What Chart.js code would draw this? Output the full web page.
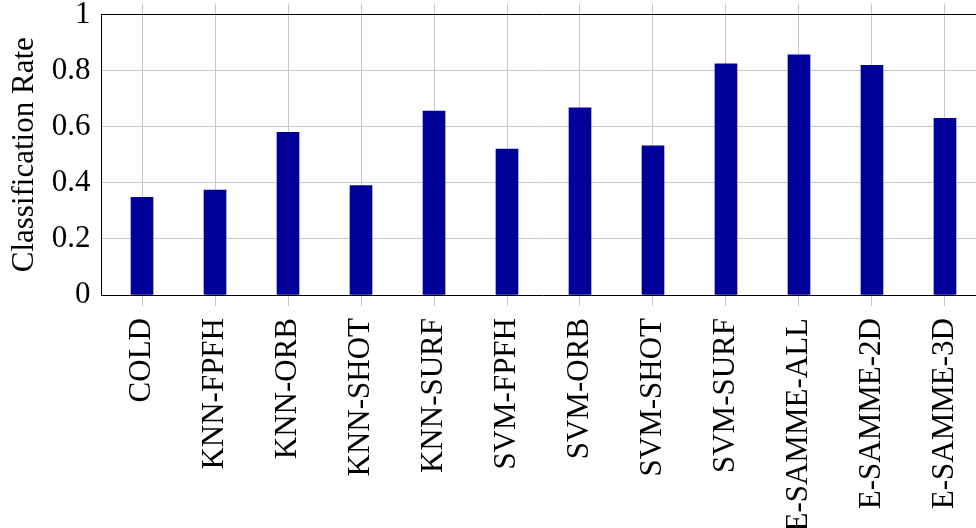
<!DOCTYPE html>
<html>
<head>
<meta charset="utf-8">
<script src="https://cdn.jsdelivr.net/npm/chart.js@4/dist/chart.umd.min.js"></script>
<style>
  html, body { margin: 0; padding: 0; background: #fff; overflow: hidden; }
  #wrap { width: 1000px; height: 528px; }
</style>
</head>
<body>
<div id="wrap"><canvas id="rateChart"></canvas></div>
<script>
const METHODS = ["COLD", "KNN-FPFH", "KNN-ORB", "KNN-SHOT", "KNN-SURF", "SVM-FPFH",
  "SVM-ORB", "SVM-SHOT", "SVM-SURF", "E-SAMME-ALL", "E-SAMME-2D", "E-SAMME-3D"];
const RATES = [0.348, 0.374, 0.580, 0.390, 0.656, 0.520, 0.667, 0.532, 0.824, 0.856, 0.819, 0.630];
const Y_TICKS = [0, 0.2, 0.4, 0.6, 0.8, 1];

const SERIF = "'Liberation Serif', 'Times New Roman', serif";
const GRID = '#c8c8c8';

// pgfplots-like x range: a bit wider than half a step on each side
const X_MIN = -0.555, X_MAX = METHODS.length - 1 + 0.555;
const catTicks = scale => { scale.ticks = METHODS.map((_, i) => ({ value: i })); };
const noPad = s => { s.paddingTop = 0; s.paddingBottom = 0; s.paddingLeft = 0; s.paddingRight = 0; };

new Chart(document.getElementById('rateChart').getContext('2d'), {
  type: 'bar',
  data: {
    datasets: [{
      data: METHODS.map((m, i) => ({ x: i, y: RATES[i] })),
      backgroundColor: '#000099',
      borderWidth: 0,
      barThickness: 22
    }]
  },
  options: {
    responsive: true,
    maintainAspectRatio: false,
    animation: false,
    layout: { padding: { left: 0, top: 0, right: 14.5, bottom: 0 } },
    plugins: { legend: { display: false }, tooltip: { enabled: false } },
    scales: {
      x: {
        type: 'linear',
        position: 'bottom',
        offset: false,
        min: X_MIN, max: X_MAX,
        afterBuildTicks: catTicks,
        afterFit: s => { s.height = 233; noPad(s); },
        grid: { color: GRID, lineWidth: 1, tickLength: 11, offset: false },
        border: { color: '#000', width: 1 },
        ticks: {
          autoSkip: false, minRotation: 90, maxRotation: 90, padding: 12,
          color: '#000', font: { family: SERIF, size: 31 },
          callback: v => METHODS[v]
        }
      },
      x2: {
        type: 'linear',
        position: 'top',
        offset: false,
        min: X_MIN, max: X_MAX,
        afterBuildTicks: catTicks,
        afterFit: s => { s.height = 14.5; noPad(s); },
        grid: { color: GRID, lineWidth: 1, tickLength: 11, drawOnChartArea: false, offset: false },
        border: { color: '#000', width: 1 },
        ticks: { display: false }
      },
      y: {
        min: 0, max: 1,
        afterBuildTicks: s => { s.ticks = Y_TICKS.map(v => ({ value: v })); },
        afterFit: s => { s.width = 101.5; noPad(s); },
        grid: { color: GRID, lineWidth: 1, drawTicks: false },
        border: { color: '#000', width: 1 },
        ticks: {
          padding: 11, color: '#000', font: { family: SERIF, size: 31 },
          callback: v => String(+v.toFixed(1))
        },
        title: {
          display: true, text: 'Classification Rate', color: '#000',
          font: { family: SERIF, size: 31 }, padding: { top: 6, bottom: 0 }
        }
      }
    }
  }
});
</script>
</body>
</html>
